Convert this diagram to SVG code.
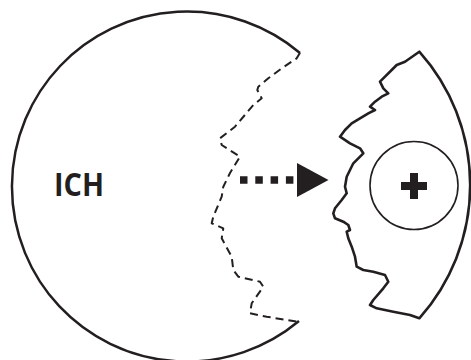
<svg xmlns="http://www.w3.org/2000/svg" width="471" height="360" viewBox="0 0 471 360">
<style>
.line{fill:none;stroke:#231f20;stroke-linejoin:round;stroke-linecap:butt}
.lbl{font-family:"Open Sans","Liberation Sans",sans-serif;font-weight:bold;font-size:33px;fill:#231f20}
</style>
<rect width="471" height="360" fill="#fff"/>
<g id="ich">
<path class="line" stroke-width="2.5" d="M300,53 A175,175 0 1 0 299,321"/>
<path class="line" stroke-width="2" stroke-dasharray="8,5" d="M300,52.7 L296.7,58.3 L281.7,68.3 L268.3,78.3 L258.3,86.7 L257.3,90 L261.7,98.3 L253.3,105 L235,126.7 L220,138.3 L221.7,145 L240,156.7 L230,173 L223.3,186.7 L221.7,196.7 L213.3,216.7 L211.7,223.3 L223.3,228.3 L221.7,238.3 L231.7,256.7 L233.3,270 L238.3,276.7 L260,281.7 L263.3,286.7 L251.7,303.3 L250,313.3 L266.7,316.7 L286.7,320 L298.3,321.7"/>
<text class="lbl" x="54" y="196" textLength="50" lengthAdjust="spacingAndGlyphs">ICH</text>
</g>
<g id="connectors">
<line x1="240" y1="180" x2="295" y2="180" stroke="#231f20" stroke-width="7.5" stroke-dasharray="7.5,7.8"/>
<polygon points="297,163 328.5,180 297,197" fill="#231f20"/>
</g>
<g id="fragment">
<path class="line" stroke-width="2.6" d="M419.3,51.7 A200,200 0 0 1 419.3,318.3 L410,315 L393.3,311.7 L376.7,308.3 L370,305 L373.3,300 L383.3,288.3 L388.3,281.7 L385,275 L373.3,271.7 L363.3,270 L356.7,266.7 L355,256.7 L351.7,246.7 L348.3,238.3 L346.7,231.7 L350,230 L348.3,225 L343.3,221.7 L335,218.3 L333.3,213.3 L335,208.3 L341.7,200 L346.7,193.3 L345,186.7 L346.7,176.7 L350,170 L353.3,163.3 L358.3,158.3 L363.3,153.3 L360,148.3 L350,143.3 L340,136.7 L345,130 L351.7,123.3 L360,118.3 L368.3,113.3 L375,110 L370,106.7 L375,101.7 L381.7,96.7 L388.3,93.3 L383.3,88.3 L380,81.7 L385,76.7 L391.7,70 L396.7,65 L405,61.7 Z"/>
<circle class="line" stroke-width="1.6" cx="414" cy="185.5" r="44"/>
<path d="M410,173 h8 v9 h9 v8 h-9 v9 h-8 v-9 h-9 v-8 h9 z" fill="#231f20"/>
</g>
</svg>
